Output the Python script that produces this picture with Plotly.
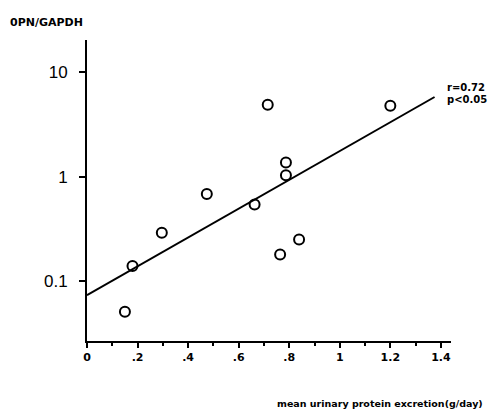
import plotly.graph_objects as go

# data
protein_g_day = [0.150, 0.18, 0.296, 0.474, 0.663, 0.715, 0.764, 0.787, 0.787, 0.839, 1.20]
opn_gapdh = [0.051, 0.14, 0.29, 0.68, 0.54, 4.85, 0.18, 1.36, 1.03, 0.25, 4.74]

# regression line (log10(y) = a + b*x)
fit_intercept_log = -1.133
fit_slope_log = 1.377
fit_x = [0.0, 1.375]
fit_y = [10 ** (fit_intercept_log + fit_slope_log * v) for v in fit_x]

x_tickvals = [0, 0.2, 0.4, 0.6, 0.8, 1.0, 1.2, 1.4]
x_ticktext = ["0", ".2", ".4", ".6", ".8", "1", "1.2", "1.4"]
y_tickvals = [0.1, 1, 10]
y_ticktext = ["0.1", "1", "10"]

fig = go.Figure()
fig.add_trace(go.Scatter(
    x=fit_x, y=fit_y, mode="lines",
    line=dict(color="black", width=2), showlegend=False, hoverinfo="skip"))
fig.add_trace(go.Scatter(
    x=protein_g_day, y=opn_gapdh, mode="markers",
    marker=dict(symbol="circle-open", size=10, color="black", line=dict(width=2)),
    showlegend=False))

sans = "Liberation Sans, Arial, sans-serif"
wide = "DejaVu Sans, sans-serif"
fig.update_layout(
    width=490, height=410,
    margin=dict(l=87, r=39, t=40, b=69),
    paper_bgcolor="white", plot_bgcolor="white",
    font=dict(family=sans, color="black"),
    xaxis=dict(
        range=[0, 1.44], tickvals=x_tickvals, ticktext=x_ticktext,
        showgrid=False, zeroline=False, showline=True, linecolor="black", linewidth=2,
        ticks="outside", ticklen=5, tickwidth=2, tickcolor="black",
        tickfont=dict(size=11, family=wide, weight="bold"),
        minor=dict(dtick=0.1, ticks="outside", ticklen=3, tickwidth=1.5, tickcolor="black"),
    ),
    yaxis=dict(
        type="log", range=[-1.571, 1.305], tickvals=y_tickvals, ticktext=y_ticktext,
        showgrid=False, zeroline=False, showline=True, linecolor="black", linewidth=2,
        ticks="outside", ticklen=6, tickwidth=2, tickcolor="black",
        ticklabelstandoff=8,
        tickfont=dict(size=17, family=sans),
    ),
    annotations=[
        dict(text="0PN/GAPDH", xref="paper", yref="paper", x=0, y=1,
             xshift=-79, yshift=18, xanchor="left", yanchor="middle", showarrow=False,
             font=dict(size=11, family=wide, weight="bold")),
        dict(text="r=0.72", xref="paper", yref="paper", x=1, y=1,
             xshift=-6, yshift=-47, xanchor="left", yanchor="middle", showarrow=False,
             font=dict(size=10, family=wide, weight="bold")),
        dict(text="p<0.05", xref="paper", yref="paper", x=1, y=1,
             xshift=-6, yshift=-59, xanchor="left", yanchor="middle", showarrow=False,
             font=dict(size=10, family=wide, weight="bold")),
        dict(text="mean urinary protein excretion(g/day)", xref="paper", yref="paper",
             x=1, y=0, xshift=34, yshift=-62, xanchor="right", yanchor="middle",
             showarrow=False, font=dict(size=9.5, family=wide, weight="bold")),
    ],
)

fig.write_html(
    "out.html",
    config={"displayModeBar": False},
    post_script="document.body.style.margin='0';document.body.style.overflow='hidden';",
)
